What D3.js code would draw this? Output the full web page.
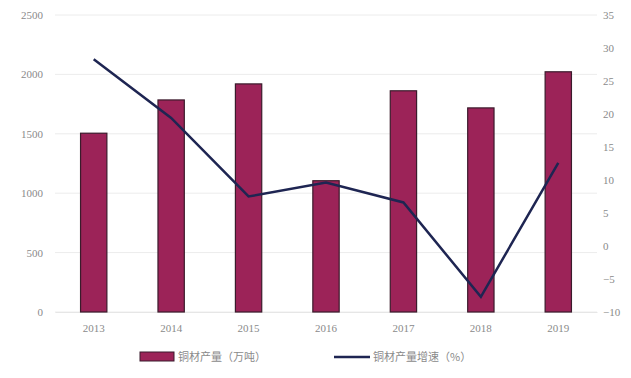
<!DOCTYPE html>
<html>
<head>
<meta charset="utf-8">
<script src="https://cdn.jsdelivr.net/npm/d3@7"></script>
<style>
  body { margin: 0; background: #fff; }
  text { font-family: "Liberation Serif", serif; fill: #8a8a8a; }
</style>
</head>
<body>
<div id="chart-area"></div>
<script>
const years = ["2013", "2014", "2015", "2016", "2017", "2018", "2019"];
const output = [1505, 1785, 1920, 1105, 1862, 1718, 2022];
const growth = [28.3, 19.4, 7.5, 9.6, 6.6, -7.7, 12.6];
const leftTicks = [0, 500, 1000, 1500, 2000, 2500];
const rightTicks = [-10, -5, 0, 5, 10, 15, 20, 25, 30, 35];

const svgWidth = 631;
const svgHeight = 378;
const margin = { top: 15, left: 55, right: 34, bottom: 66 };
const chartWidth = svgWidth - margin.left - margin.right;
const chartHeight = svgHeight - margin.top - margin.bottom;

const svg = d3.select("#chart-area")
              .append("svg")
              .attr("width", svgWidth)
              .attr("height", svgHeight);

const g = svg.append("g")
             .attr("transform", `translate(${margin.left},${margin.top})`);

const x = d3.scaleBand()
            .domain(years)
            .range([0, chartWidth])
            .paddingInner(0.66)
            .paddingOuter(0.33);

const y = d3.scaleLinear()
            .domain([0, 2500])
            .range([chartHeight, 0]);

const y2 = d3.scaleLinear()
             .domain([-10, 35])
             .range([chartHeight, 0]);

// gridlines
g.selectAll(".grid")
  .data(leftTicks)
  .enter()
  .append("line")
  .attr("x1", 0)
  .attr("x2", chartWidth)
  .attr("y1", d => y(d))
  .attr("y2", d => y(d))
  .attr("stroke", "#ececec")
  .attr("stroke-width", 1);

// left axis
const leftAxis = g.append("g")
  .call(d3.axisLeft(y).tickValues(leftTicks).tickFormat(d3.format("d")).tickSize(0).tickPadding(12));
leftAxis.select(".domain").remove();
leftAxis.selectAll("text").style("font-size", "11px");

// right axis
const rightAxis = g.append("g")
  .attr("transform", `translate(${chartWidth},0)`)
  .call(d3.axisRight(y2).tickValues(rightTicks).tickFormat(d3.format("d")).tickSize(0).tickPadding(6));
rightAxis.select(".domain").remove();
rightAxis.selectAll("text").style("font-size", "11px");

// bottom axis
const bottomAxis = g.append("g")
  .attr("transform", `translate(0,${chartHeight})`)
  .call(d3.axisBottom(x).tickSize(0).tickPadding(12));
bottomAxis.select(".domain").attr("stroke", "#e6e6e6");
bottomAxis.selectAll("text").style("font-size", "11px");

// bars
g.selectAll(".bar")
  .data(years)
  .enter()
  .append("rect")
  .attr("x", d => x(d))
  .attr("y", (d, i) => y(output[i]))
  .attr("width", x.bandwidth())
  .attr("height", (d, i) => chartHeight - y(output[i]))
  .attr("fill", "#9c2358")
  .attr("stroke", "#3b1b2c")
  .attr("stroke-width", 1.2);

// line
const line = d3.line()
  .x((d, i) => x(years[i]) + x.bandwidth() / 2)
  .y(d => y2(d));

g.append("path")
  .datum(growth)
  .attr("d", line)
  .attr("fill", "none")
  .attr("stroke", "#1e2552")
  .attr("stroke-width", 2.5);

// legend
const legend = svg.append("g").attr("transform", "translate(0,357)");
legend.append("rect")
  .attr("x", 140).attr("y", -5)
  .attr("width", 34).attr("height", 9)
  .attr("fill", "#9c2358")
  .attr("stroke", "#3b1b2c");
legend.append("text")
  .attr("x", 178).attr("y", 4)
  .style("font-family", "'Noto Sans CJK SC', sans-serif")
  .style("font-size", "11px")
  .text("铜材产量（万吨）");
legend.append("line")
  .attr("x1", 334).attr("x2", 370)
  .attr("y1", 0).attr("y2", 0)
  .attr("stroke", "#1e2552")
  .attr("stroke-width", 2.5);
legend.append("text")
  .attr("x", 373).attr("y", 4)
  .style("font-family", "'Noto Sans CJK SC', sans-serif")
  .style("font-size", "11px")
  .text("铜材产量增速（%）");
</script>
</body>
</html>
